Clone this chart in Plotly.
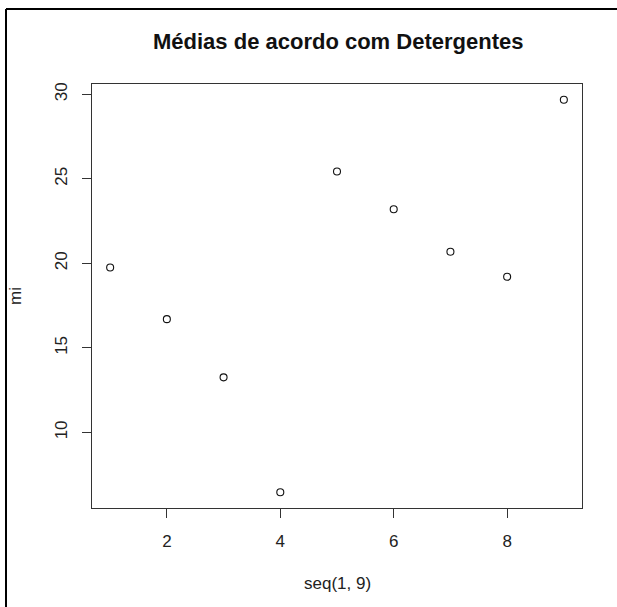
import plotly.graph_objects as go

# Mean per detergent
detergente = [1, 2, 3, 4, 5, 6, 7, 8, 9]
mi = [19.76, 16.70, 13.26, 6.46, 25.43, 23.20, 20.69, 19.21, 29.68]

x_ticks = [2, 4, 6, 8]
y_ticks = [10, 15, 20, 25, 30]

W, H = 617, 607
L, R, T, B = 92, 35, 84, 99
PW, PH = W - L - R, H - T - B


def px_x(p):
    return (p - L) / PW


def px_y(p):
    return 1 - (p - T) / PH


def padded(lo, hi, frac=0.04):
    d = (hi - lo) * frac
    return [lo - d, hi + d]


font = "Liberation Sans, Arial, sans-serif"
ink = "#222222"

fig = go.Figure(
    go.Scatter(
        x=detergente,
        y=mi,
        mode="markers",
        marker=dict(symbol="circle-open", size=7, color="#111111",
                    line=dict(width=1.1, color="#111111")),
        showlegend=False,
    )
)

axis_common = dict(
    showgrid=False,
    zeroline=False,
    showline=True,
    mirror=True,
    linecolor="#333333",
    linewidth=1.2,
    ticks="outside",
    ticklen=9,
    tickwidth=1,
    tickcolor="#333333",
    tickfont=dict(family=font, size=17, color=ink),
)

fig.update_xaxes(range=padded(min(detergente), max(detergente)),
                 tickvals=x_ticks, ticklabelstandoff=8, **axis_common)
fig.update_yaxes(range=padded(min(mi), max(mi)),
                 tickvals=y_ticks, tickangle=-90, ticklabelstandoff=8,
                 **axis_common)

fig.update_layout(
    width=W,
    height=H,
    margin=dict(l=L, r=R, t=T, b=B, pad=0),
    paper_bgcolor="white",
    plot_bgcolor="white",
    annotations=[
        dict(text="<b>Médias de acordo com Detergentes</b>",
             xref="paper", yref="paper", x=px_x(338), y=px_y(42),
             xanchor="center", yanchor="middle", showarrow=False,
             font=dict(family=font, size=22, color="#111111")),
        dict(text="seq(1, 9)",
             xref="paper", yref="paper", x=px_x(337), y=px_y(583),
             xanchor="center", yanchor="middle", showarrow=False,
             font=dict(family=font, size=17, color=ink)),
        dict(text="mi", textangle=-90,
             xref="paper", yref="paper", x=px_x(15), y=px_y(296),
             xanchor="center", yanchor="middle", showarrow=False,
             font=dict(family=font, size=17, color=ink)),
    ],
    shapes=[
        # outer frame (top and left edges)
        dict(type="line", xref="paper", yref="paper",
             x0=px_x(6), x1=px_x(W + 5), y0=px_y(9), y1=px_y(9),
             line=dict(color="black", width=2)),
        dict(type="line", xref="paper", yref="paper",
             x0=px_x(6), x1=px_x(6), y0=px_y(9), y1=px_y(H + 5),
             line=dict(color="black", width=2)),
    ],
)

fig.write_html("out.html")
